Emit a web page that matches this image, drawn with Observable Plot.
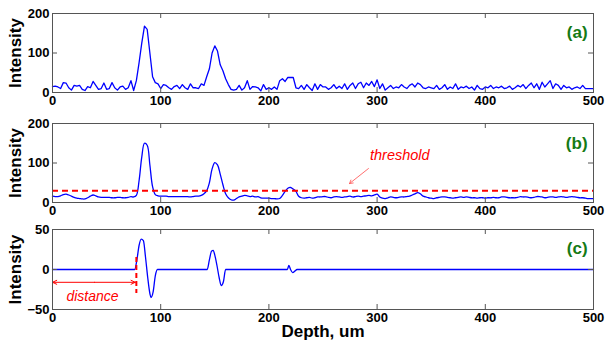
<!DOCTYPE html>
<html>
<head>
<meta charset="utf-8">
<script src="https://cdn.jsdelivr.net/npm/d3@7"></script>
<script src="https://cdn.jsdelivr.net/npm/@observablehq/plot@0.6"></script>
<style>
  body { margin: 0; background: white; }
  #chart { width: 606px; height: 349px; position: relative; }
  #chart svg { display: block; }
</style>
</head>
<body>
<div id="chart"></div>
<script>
// ---------- data ----------
const step = 2.5; // depth sampling step (um) for panels (a) and (b)
const rawIntensity = [
  15,16,14,10,25,24,12,6,18,16,
  18,8,5,15,12,28,18,8,10,24,
  8,10,25,12,6,14,16,8,12,30,
  5,30,75,125,168,160,100,40,25,22,
  10,20,18,12,8,15,18,10,20,12,
  8,22,12,12,10,22,18,40,60,100,
  118,105,70,55,35,20,8,6,8,18,
  6,12,30,8,15,14,12,4,20,8,
  12,8,14,8,30,35,28,38,38,38,
  12,10,18,8,20,12,5,22,8,20,
  14,14,8,12,20,10,16,10,22,8,
  18,24,10,22,26,12,24,18,28,15,
  32,10,22,6,12,18,10,14,12,20,
  14,10,18,22,14,24,20,12,10,14,
  12,10,18,8,12,20,8,14,10,22,
  8,14,12,16,10,14,6,18,10,8,
  14,12,18,10,14,12,16,10,12,16,
  8,12,18,14,20,10,18,24,12,22,
  8,26,14,22,30,10,22,18,8,18,
  12,14,8,12,14,10,18,10,10,10,
  10
];
const smoothIntensity = [
  16,15,15,17,20,21,19,16,13,11,
  10,9,9,12,16,19,17,14,13,13,
  13,13,12,12,13,13,12,12,13,15,
  14,18,55,115,150,145,95,40,20,17,
  16,16,16,15,15,15,15,15,15,15,
  15,14,15,16,16,18,22,30,50,85,
  101,95,72,45,22,12,7,6,10,14,
  16,18,17,15,16,14,15,12,11,11,
  11,10,10,9,10,18,28,36,38,34,
  28,16,12,11,12,13,11,12,14,14,
  15,15,13,12,14,15,14,13,14,15,
  16,14,15,16,15,16,17,18,17,19,
  21,14,11,10,12,14,13,12,13,14,
  14,15,16,19,22,25,22,16,14,12,
  11,10,12,13,14,14,13,12,11,12,
  13,14,13,14,13,12,12,11,12,12,
  11,12,12,13,12,12,14,14,13,12,
  12,12,13,15,14,14,13,12,13,15,
  15,14,12,13,14,14,13,14,15,14,
  13,14,15,14,13,12,12,11,10,10,
  10
];
const derivDepth = [0,76,78,80,82,84,86,88,90,91,93,95,97,143,145,147,148.5,150,152,154,156,158,160,217,218.5,220,222,224,226,500];
const derivValue = [0,0,12,30,38,36,15,-10,-30,-35,-28,-8,0,0,12,23,24,18,5,-10,-20,-15,0,0,5,0,-4,-2,0,0];

const xTicks = [0,100,200,300,400,500];
const yTicksAB = [0,100,200];
const yTicksC = [-50,0,50];
const threshold = 30;
const edgeDepth = 77.5;
const panelLabels = ["(a)","(b)","(c)"];

// ---------- helpers ----------
const FONT = "'Liberation Sans', Arial, sans-serif";
const BLUE = "#0000ff";
const RED = "#ff0000";
const GREEN = "#157a15";
const W = 606, ML = 52, MR = 13;
const innerW = W - ML - MR;

const seriesA = rawIntensity.map((v, i) => ({depth: i * step, value: v}));
const seriesB = smoothIntensity.map((v, i) => ({depth: i * step, value: v}));
const seriesC = derivDepth.map((d, i) => ({depth: d, value: derivValue[i]}));

function panel({data, yDomain, yTicks, height, marginTop, marginBottom, label, labelY, curve, extra = []}) {
  const innerH = height - marginTop - marginBottom;
  const midTicksX = xTicks.slice(1, -1);
  const midTicksY = yTicks.slice(1, -1);
  return Plot.plot({
    width: W, height, marginLeft: ML, marginRight: MR, marginTop, marginBottom,
    style: {fontFamily: FONT, background: "transparent", overflow: "visible", color: "black"},
    x: {domain: [0, 500]},
    y: {domain: yDomain},
    marks: [
      Plot.line(data, {x: "depth", y: "value", stroke: BLUE, strokeWidth: 1.3, curve}),
      ...extra,
      Plot.frame({stroke: "#555", strokeWidth: 1}),
      Plot.ruleX(midTicksX, {x: d => d, insetTop: innerH - 5, stroke: "#555"}),
      Plot.ruleX(midTicksX, {x: d => d, insetBottom: innerH - 5, stroke: "#555"}),
      Plot.ruleY(midTicksY, {y: d => d, insetRight: innerW - 5, stroke: "#555"}),
      Plot.ruleY(midTicksY, {y: d => d, insetLeft: innerW - 5, stroke: "#555"}),
      Plot.axisX(xTicks, {tickSize: 0, tickPadding: 3, fontSize: 13, fontWeight: "bold", label: null}),
      Plot.axisY(yTicks, {tickSize: 0, tickPadding: 3, fontSize: 13, fontWeight: "bold", label: null}),
      Plot.text(["Intensity"], {text: d => d, frameAnchor: "left", textAnchor: "middle", lineAnchor: "middle", dx: -37, rotate: -90, fontSize: 17, fontWeight: "bold"}),
      Plot.text([label], {text: d => d, x: 494.5, y: labelY, textAnchor: "end", fontSize: 17, fontWeight: "bold", fill: GREEN})
    ]
  });
}

const chart = document.getElementById("chart");

chart.append(panel({
  data: seriesA, yDomain: [0, 200], yTicks: yTicksAB,
  height: 110, marginTop: 13, marginBottom: 18,
  label: panelLabels[0], labelY: 152, curve: "linear"
}));

chart.append(panel({
  data: seriesB, yDomain: [0, 200], yTicks: yTicksAB,
  height: 110, marginTop: 13, marginBottom: 18,
  label: panelLabels[1], labelY: 149, curve: "catmull-rom",
  extra: [
    Plot.ruleY([threshold], {y: d => d, stroke: RED, strokeWidth: 2, strokeDasharray: "6,4"}),
    Plot.text(["threshold"], {text: d => d, x: 321, y: 119, fill: RED, fontStyle: "italic", fontSize: 14.5}),
    Plot.arrow([{x1: 292, y1: 86, x2: 274.5, y2: 48}], {x1: "x1", y1: "y1", x2: "x2", y2: "y2", stroke: "#ff4a4a", strokeWidth: 0.8, headLength: 7})
  ]
}));

chart.append(panel({
  data: seriesC, yDomain: [-50, 50], yTicks: yTicksC,
  height: 129, marginTop: 9, marginBottom: 40,
  label: panelLabels[2], labelY: 26, curve: "monotone-x",
  extra: [
    Plot.ruleX([edgeDepth], {x: d => d, y1: 15, y2: -30, stroke: RED, strokeWidth: 2, strokeDasharray: "5,3"}),
    Plot.arrow([{x1: edgeDepth / 2, x2: 0}, {x1: edgeDepth / 2, x2: edgeDepth - 1}], {x1: "x1", x2: "x2", y1: () => -16, y2: () => -16, stroke: RED, strokeWidth: 1, headLength: 7, headAngle: 50}),
    Plot.text(["distance"], {text: d => d, x: 37, y: -34, fill: RED, fontStyle: "italic", fontSize: 14}),
    Plot.text(["Depth, um"], {text: d => d, frameAnchor: "bottom", dy: 27, fontSize: 17, fontWeight: "bold"})
  ]
}));
</script>
</body>
</html>
